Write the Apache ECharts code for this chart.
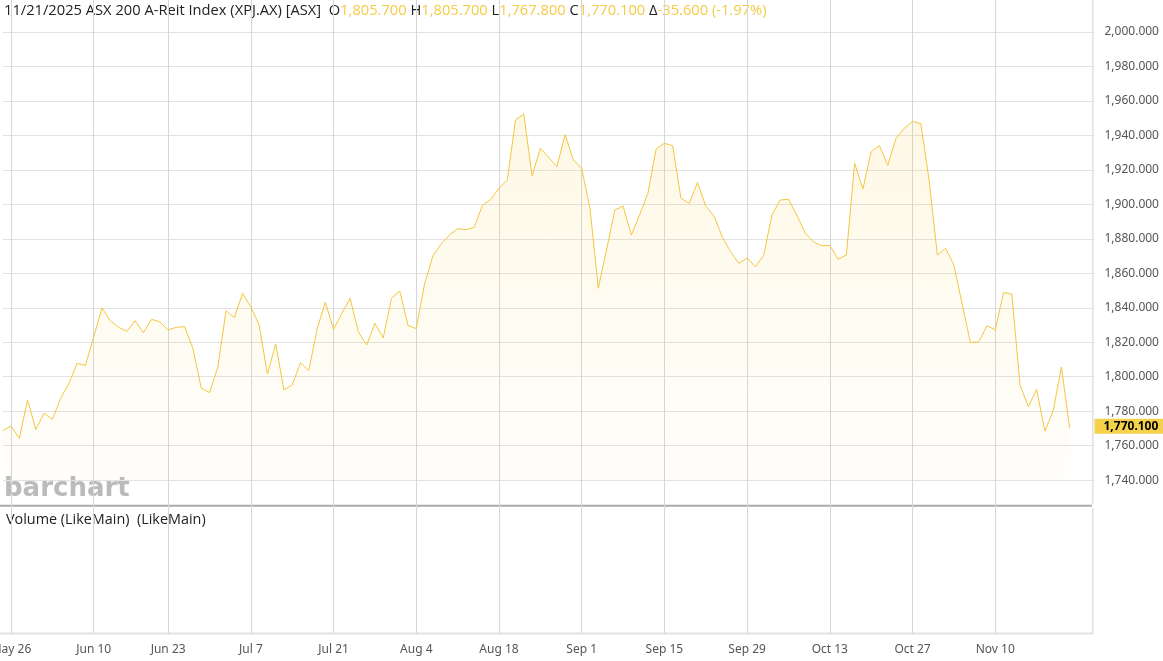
<!DOCTYPE html>
<html><head><meta charset="utf-8">
<script src="https://cdn.jsdelivr.net/npm/echarts@6/dist/echarts.min.js"></script>
<style>html,body{margin:0;padding:0;background:#fff}#c{width:1163px;height:661px}</style>
</head><body><div id="c"></div>
<script>
const dates = [
 "May 23","May 26","May 27","May 28","May 29","May 30",
 "Jun 2","Jun 3","Jun 4","Jun 5","Jun 6","Jun 10","Jun 11","Jun 12","Jun 13",
 "Jun 16","Jun 17","Jun 18","Jun 19","Jun 20","Jun 23","Jun 24","Jun 25","Jun 26","Jun 27","Jun 30",
 "Jul 1","Jul 2","Jul 3","Jul 4","Jul 7","Jul 8","Jul 9","Jul 10","Jul 11",
 "Jul 14","Jul 15","Jul 16","Jul 17","Jul 18","Jul 21","Jul 22","Jul 23","Jul 24","Jul 25",
 "Jul 28","Jul 29","Jul 30","Jul 31","Aug 1",
 "Aug 4","Aug 5","Aug 6","Aug 7","Aug 8","Aug 11","Aug 12","Aug 13","Aug 14","Aug 15",
 "Aug 18","Aug 19","Aug 20","Aug 21","Aug 22","Aug 25","Aug 26","Aug 27","Aug 28","Aug 29",
 "Sep 1","Sep 2","Sep 3","Sep 4","Sep 5","Sep 8","Sep 9","Sep 10","Sep 11","Sep 12",
 "Sep 15","Sep 16","Sep 17","Sep 18","Sep 19","Sep 22","Sep 23","Sep 24","Sep 25","Sep 26",
 "Sep 29","Sep 30","Oct 1","Oct 2","Oct 3","Oct 6","Oct 7","Oct 8","Oct 9","Oct 10",
 "Oct 13","Oct 14","Oct 15","Oct 16","Oct 17","Oct 20","Oct 21","Oct 22","Oct 23","Oct 24",
 "Oct 27","Oct 28","Oct 29","Oct 30","Oct 31","Nov 3","Nov 4","Nov 5","Nov 6","Nov 7",
 "Nov 10","Nov 11","Nov 12","Nov 13","Nov 14","Nov 17","Nov 18","Nov 19","Nov 20","Nov 21",
 "Nov 24","Nov 25","Nov 26"
];
const closes = [
 1768.7,1771.4,1764.3,1786.5,1769.5,1778.8,1775.3,1787.5,1796.2,1807.8,
 1806.6,1823.2,1839.9,1832.5,1828.7,1826.3,1832.5,1825.6,1833.3,1831.8,
 1827.1,1828.7,1829.0,1816.3,1793.5,1790.8,1805.5,1838.3,1834.3,1848.4,
 1840.6,1830.0,1801.6,1819.0,1792.3,1795.2,1808.2,1803.5,1827.5,1843.2,
 1827.5,1836.8,1845.5,1826.0,1818.4,1831.0,1822.5,1845.5,1849.7,1829.8,
 1827.9,1853.8,1870.0,1877.0,1882.2,1885.9,1885.3,1886.7,1899.4,1902.9,
 1909.3,1914.1,1948.9,1952.4,1916.6,1932.5,1927.3,1921.9,1940.4,1925.7,
 1920.9,1897.7,1851.3,1873.5,1896.7,1899.0,1882.2,1893.8,1906.4,1932.1,
 1935.4,1934.0,1903.5,1900.6,1912.6,1899.0,1893.2,1881.2,1872.5,1865.8,
 1868.9,1863.8,1870.4,1893.8,1902.5,1902.9,1893.8,1883.6,1878.3,1876.0,
 1876.2,1868.1,1870.6,1923.8,1908.9,1930.6,1934.0,1922.6,1938.3,1944.1,
 1948.1,1946.8,1914.1,1870.6,1874.5,1864.8,1842.2,1819.8,1820.3,1829.6,
 1827.1,1848.8,1848.0,1795.2,1782.6,1792.7,1768.5,1780.3,1805.7,1770.1
];
const tickLabels = ["May 26","Jun 10","Jun 23","Jul 7","Jul 21","Aug 4","Aug 18","Sep 1","Sep 15","Sep 29","Oct 13","Oct 27","Nov 10"];
const yMin = 1740, yMax = 2000, yStep = 20;
const headerTitle = "11/21/2025 ASX 200 A-Reit Index (XPJ.AX) [ASX]";
const headerOpen = "1,805.700", headerHigh = "1,805.700", headerLow = "1,767.800", headerClose = "1,770.100", headerChange = "-35.600 (-1.97%)";
const lastValue = 1770.1;

const fmt = v => v.toLocaleString('en-US', {minimumFractionDigits: 3, maximumFractionDigits: 3});
const isTick = (i, v) => tickLabels.indexOf(v) >= 0;
const GOLD = '#f3c63f';
const FONT = 'Noto Sans';

const chart = echarts.init(document.getElementById('c'), null, {renderer: 'canvas'});
chart.setOption({
  animation: false,
  backgroundColor: '#fff',
  grid: [
    {left: 2.73, right: 68.5, top: 31.9, height: 448.3, containLabel: false, outerBoundsMode: 'none'},
    {left: 2.73, right: 68.5, top: 0, bottom: 27.3, containLabel: false, outerBoundsMode: 'none'}
  ],
  xAxis: [
    {type: 'category', gridIndex: 0, data: dates, boundaryGap: false, show: false},
    {type: 'category', gridIndex: 1, data: dates, boundaryGap: false,
     axisLine: {show: false}, axisTick: {show: false},
     splitLine: {show: true, interval: isTick, lineStyle: {color: '#d6d6d6', width: 1}},
     axisLabel: {interval: isTick, color: '#555', fontFamily: FONT, fontSize: 12, margin: 10, hideOverlap: false}}
  ],
  yAxis: [
    {type: 'value', gridIndex: 0, position: 'right', min: yMin, max: yMax, interval: yStep,
     axisLine: {show: false}, axisTick: {show: false},
     splitLine: {lineStyle: {color: '#e2e2e2', width: 1}},
     axisLabel: {formatter: fmt, color: '#555', fontFamily: FONT, fontSize: 12, margin: 10, align: 'left'}},
    {type: 'value', gridIndex: 1, min: 0, max: 1, show: false}
  ],
  series: [{
    type: 'line', xAxisIndex: 0, yAxisIndex: 0, data: closes,
    symbol: 'none', lineStyle: {color: GOLD, width: 1},
    areaStyle: {origin: 'start', color: new echarts.graphic.LinearGradient(0, 0, 0, 1, [
      {offset: 0, color: 'rgba(247,205,70,0.2)'},
      {offset: 1, color: 'rgba(247,205,70,0.03)'}
    ])},
    markLine: {
      silent: true, symbol: 'none', animation: false,
      lineStyle: {color: 'rgba(0,0,0,0)', width: 0, opacity: 1},
      data: [{yAxis: lastValue}],
      label: {show: true, position: 'end', distance: 0, formatter: () => fmt(lastValue),
        backgroundColor: '#f5d24a', color: '#000', fontWeight: 'bold', fontFamily: FONT, fontSize: 12,
        padding: [2, 5, 1, 9], opacity: 1, offset: [0, -2]}
    }
  }],
  graphic: [
    {type: 'line', shape: {x1: 0, y1: 505.7, x2: 1092, y2: 505.7}, style: {stroke: '#aaaaaa', lineWidth: 2}, silent: true},
    {type: 'line', shape: {x1: 0, y1: 633.5, x2: 1093, y2: 633.5}, style: {stroke: '#e2e2e2', lineWidth: 2}, silent: true},
    {type: 'line', shape: {x1: 1092.8, y1: 0, x2: 1092.8, y2: 503.5}, style: {stroke: '#e0e0e0', lineWidth: 1.5}, silent: true},
    {type: 'line', shape: {x1: 1092.8, y1: 508, x2: 1092.8, y2: 634}, style: {stroke: '#e0e0e0', lineWidth: 1.5}, silent: true},
    {type: 'text', left: 4, top: 476, silent: true,
     style: {text: 'barchart', fill: '#bbbbbb', font: 'bold 26px "DejaVu Sans"'}},
    {type: 'text', left: 6, top: 513, silent: true,
     style: {text: 'Volume (LikeMain)  (LikeMain)', fill: '#222', font: '14.4px "Open Sans"'}},
    {type: 'text', left: 4, top: 3, silent: true,
     style: {
       text: '{d|' + headerTitle + '}  {d|O}{v|' + headerOpen + '} {d|H}{v|' + headerHigh + '} {d|L}{v|' + headerLow + '} {d|C}{v|' + headerClose + '} {d|Δ}{v|' + headerChange + '}',
       font: '14.7px "Open Sans"',
       rich: {
         d: {fill: '#222', fontFamily: 'Open Sans', fontSize: 14.7},
         v: {fill: '#f5cb45', fontFamily: 'Open Sans', fontSize: 14.7}
       }
     }}
  ]
});
</script></body></html>
